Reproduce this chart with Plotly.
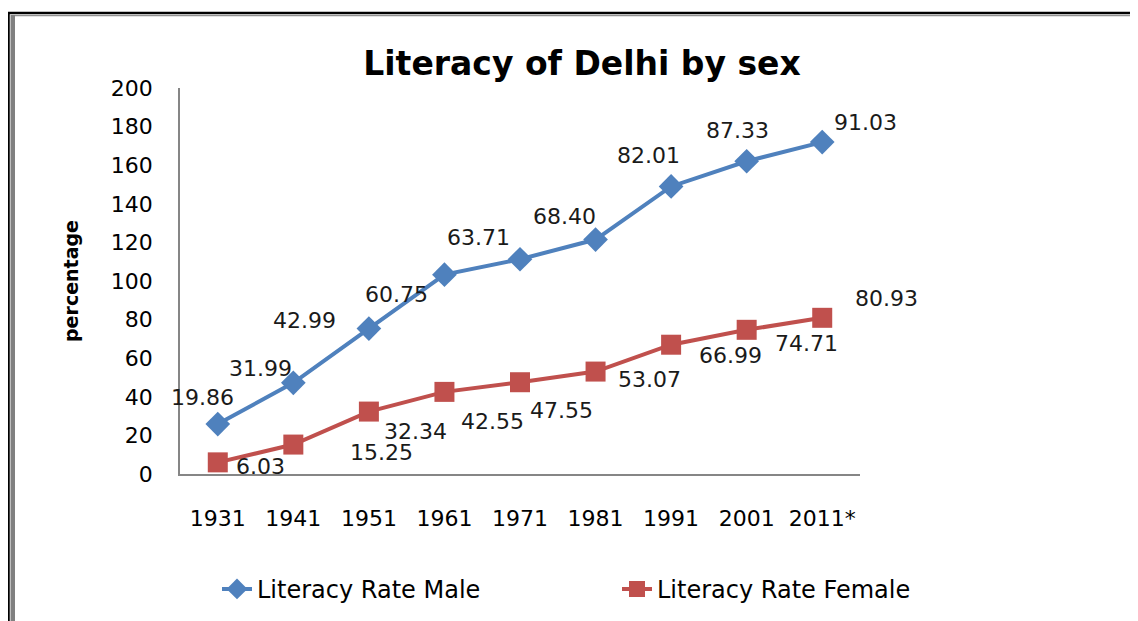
import numpy as np
import plotly.graph_objects as go

years = ["1931", "1941", "1951", "1961", "1971", "1981", "1991", "2001", "2011*"]
male = [19.86, 31.99, 42.99, 60.75, 63.71, 68.40, 82.01, 87.33, 91.03]
female = [6.03, 15.25, 32.34, 42.55, 47.55, 53.07, 66.99, 74.71, 80.93]

# label placement offsets (pixels) relative to each plotted point
male_label_shift = [(-15, 27), (-33, 14), (-64, 8), (-48, -20), (-42, 22),
                    (-31, 23), (-23, 31), (-9, 31), (43, 20)]
female_label_shift = [(43, -4), (88, -8), (47, -20), (48, -30), (41, -28),
                      (54, -8), (59, -11), (60, -14), (64, 19)]

BLUE = "#4F81BD"
RED = "#C0504D"
OFF = 8  # page body margin offset
W, H = 1138 - OFF, 621 - OFF
# plot area in page pixels
L, R, T, B = 180, 860, 88, 474.5

idx = list(range(len(years)))
female_arr = np.array(female)
male_stacked = female_arr + np.array(male)  # stacked line chart

fig = go.Figure()
fig.add_trace(go.Scatter(
    x=idx, y=male_stacked, name="Literacy Rate Male", mode="lines+markers",
    line=dict(color=BLUE, width=4),
    marker=dict(symbol="diamond", size=19, color=BLUE), legend="legend",
))
fig.add_trace(go.Scatter(
    x=idx, y=female, name="Literacy Rate Female", mode="lines+markers",
    line=dict(color=RED, width=4),
    marker=dict(symbol="square", size=20, color=RED), legend="legend2",
))

FONT = "DejaVu Sans"
label_font = dict(family=FONT, size=22, color="#1a1a1a")
annotations = []
for i in idx:
    dx, dy = male_label_shift[i]
    annotations.append(dict(x=i, y=male_stacked[i], xref="x", yref="y",
                            text=f"{male[i]:.2f}", showarrow=False,
                            xshift=dx, yshift=dy, font=label_font))
    dx, dy = female_label_shift[i]
    annotations.append(dict(x=i, y=female[i], xref="x", yref="y",
                            text=f"{female[i]:.2f}", showarrow=False,
                            xshift=dx, yshift=dy, font=label_font))


def px_x(px):
    return (px - L) / (R - L)


def px_y(py):
    return (B - py) / (B - T)


shapes = [
    dict(type="line", xref="paper", yref="paper", x0=px_x(8.5), x1=px_x(8.5),
         y0=px_y(12), y1=px_y(630), line=dict(color="black", width=2.5)),
    dict(type="rect", xref="paper", yref="paper", x0=px_x(10.5), x1=px_x(15),
         y0=px_y(15), y1=px_y(630), line=dict(width=0), fillcolor="#808080"),
    dict(type="line", xref="paper", yref="paper", x0=px_x(8), x1=px_x(1150),
         y0=px_y(13), y1=px_y(13), line=dict(color="black", width=2.5)),
    dict(type="line", xref="paper", yref="paper", x0=px_x(15), x1=px_x(1150),
         y0=px_y(15.5), y1=px_y(15.5), line=dict(color="#909090", width=1.2)),
]

legend_common = dict(orientation="h", yanchor="middle", y=px_y(590),
                     xanchor="left", bgcolor="rgba(0,0,0,0)",
                     font=dict(family=FONT, size=24, color="black"))

fig.update_layout(
    width=W, height=H,
    margin=dict(l=L - OFF, r=W - (R - OFF), t=T - OFF, b=H - (B - OFF),
                autoexpand=False),
    paper_bgcolor="white", plot_bgcolor="white",
    title=dict(text="<b>Literacy of Delhi by sex</b>", x=px_x(582), xref="paper",
               xanchor="center", y=1 - (63 - OFF) / H, yanchor="middle",
               font=dict(family=FONT, size=33, color="black")),
    xaxis=dict(range=[-0.5, 8.5], showgrid=False, tickmode="array",
               tickvals=idx, ticktext=years,
               showline=True, linecolor="#868686", linewidth=1.5, ticks="",
               tickfont=dict(family=FONT, size=22, color="black"),
               ticklabelstandoff=24, zeroline=False),
    yaxis=dict(range=[0, 200], dtick=20, showgrid=False, showline=True,
               linecolor="#868686", linewidth=1.5, ticks="",
               tickfont=dict(family=FONT, size=22, color="black"),
               ticklabelstandoff=21, zeroline=False,
               title=dict(text="<b>percentage</b>", standoff=27,
                          font=dict(family=FONT, size=19, color="black"))),
    legend=dict(legend_common, x=px_x(217)),
    legend2=dict(legend_common, x=px_x(617)),
    annotations=annotations,
    shapes=shapes,
    showlegend=True,
)

fig.write_html("out.html")
